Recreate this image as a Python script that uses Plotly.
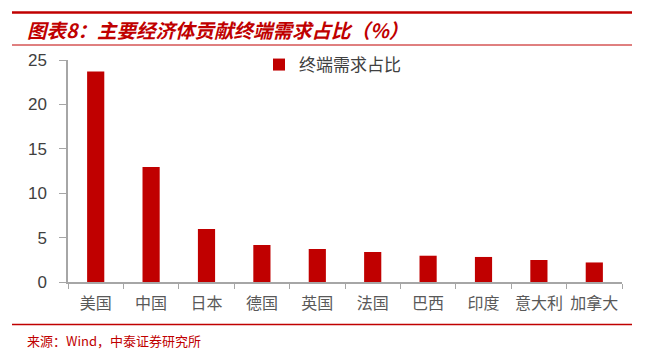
import plotly.graph_objects as go

categories = ["美国", "中国", "日本", "德国", "英国", "法国", "巴西", "印度", "意大利", "加拿大"]
values = [23.7, 12.95, 5.97, 4.17, 3.72, 3.38, 2.96, 2.82, 2.48, 2.2]
series_name = "终端需求占比"
y_ticks = [0, 5, 10, 15, 20, 25]

W, H = 646, 355
L, R, T, B = 68, 24, 60, 73
PW, PH = W - L - R, H - T - B

def px(x):
    return (x - L) / PW

def py(y):
    return (H - B - y) / PH

RED = "#C00000"
CJK = "Noto Sans CJK SC"

fig = go.Figure()
fig.add_trace(go.Bar(x=categories, y=values, name=series_name,
                     marker=dict(color=RED, line=dict(width=0)),
                     showlegend=True))

fig.update_layout(
    width=W, height=H,
    margin=dict(l=L, r=R, t=T, b=B),
    paper_bgcolor="white", plot_bgcolor="white",
    bargap=0.69,
    showlegend=True,
    legend=dict(x=px(259), y=py(65), xanchor="left", yanchor="middle",
                font=dict(family=CJK, size=17, color="#404040"),
                bgcolor="rgba(0,0,0,0)", itemwidth=30),
    xaxis=dict(type="category", showline=True, linecolor="#A6A6A6", linewidth=1.5,
               ticks="outside", tickson="boundaries", ticklen=5, tickcolor="#A6A6A6",
               tickangle=0,
               tickfont=dict(family=CJK, size=16, color="#595959"),
               showgrid=False, zeroline=False, ticklabelstandoff=6),
    yaxis=dict(range=[0, 25], tickvals=y_ticks, showline=True, linecolor="#A6A6A6",
               linewidth=1.5, ticks="outside", ticklen=7, tickcolor="#A6A6A6",
               tickfont=dict(family="Liberation Sans", size=17, color="#404040"),
               showgrid=False, zeroline=False, ticklabelstandoff=9),
    font=dict(family=CJK),
)

shapes = [
    dict(type="line", xref="paper", yref="paper", x0=px(12), x1=px(632), y0=py(12.5), y1=py(12.5),
         line=dict(color=RED, width=2.5)),
    dict(type="line", xref="paper", yref="paper", x0=px(12), x1=px(632), y0=py(45), y1=py(45),
         line=dict(color=RED, width=1)),
    dict(type="line", xref="paper", yref="paper", x0=px(12), x1=px(632), y0=py(324.5), y1=py(324.5),
         line=dict(color=RED, width=1.5)),
]
fig.update_layout(shapes=shapes)

fig.add_annotation(xref="paper", yref="paper", x=px(25), y=py(29), xanchor="left", yanchor="middle",
                   text="<b><i>图表8：主要经济体贡献终端需求占比（%）</i></b>", showarrow=False,
                   font=dict(family=CJK, size=19.5, color=RED))
fig.add_annotation(xref="paper", yref="paper", x=px(25), y=py(340), xanchor="left", yanchor="middle",
                   text="来源：Wind，中泰证券研究所", showarrow=False,
                   font=dict(family=CJK, size=13, color=RED))

fig.write_html("out.html")
